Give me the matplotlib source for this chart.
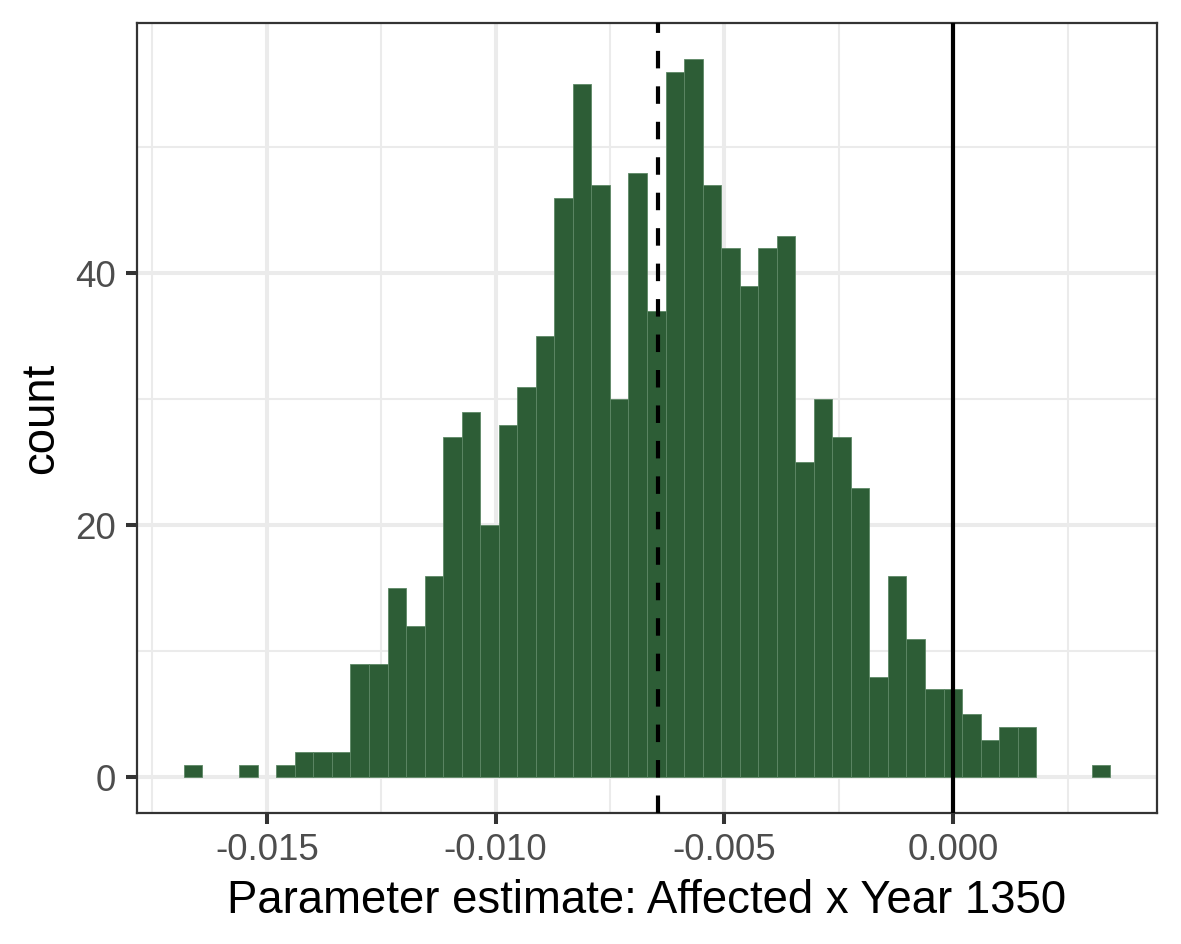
import numpy as np
import matplotlib
matplotlib.use("Agg")
import matplotlib.pyplot as plt
from matplotlib.ticker import FixedLocator

# ---- data ----
bin_start = -0.016817
bin_width = 0.000405
counts = [1, 0, 0, 1, 0, 1, 2, 2, 2, 9,
          9, 15, 12, 16, 27, 29, 20, 28, 31, 35,
          46, 55, 47, 30, 48, 37, 56, 57, 47, 42,
          39, 42, 43, 25, 30, 27, 23, 8, 16, 11,
          7, 7, 5, 3, 4, 4, 0, 0, 0, 1]
mean_estimate = -0.00646
reference_value = 0.0
x_ticks = [-0.015, -0.010, -0.005, 0.000]
x_tick_labels = ["-0.015", "-0.010", "-0.005", "0.000"]
x_minor_ticks = [-0.0175, -0.0125, -0.0075, -0.0025, 0.0025]
y_ticks = [0, 20, 40]
y_minor_ticks = [10, 30, 50]
x_label = "Parameter estimate: Affected x Year 1350"
y_label = "count"

plt.rcParams['font.family'] = ['Liberation Sans', 'DejaVu Sans']

W, H = 1181, 944
fig = plt.figure(figsize=(W / 100, H / 100), dpi=100)
left, right, top, bottom = 137.3, 1156.7, 23.3, 813.3
ax = fig.add_axes([left / W, 1 - bottom / H, (right - left) / W, (bottom - top) / H])

counts_arr = np.array(counts, dtype=float)
lefts = bin_start + bin_width * np.arange(len(counts_arr))
mask = counts_arr > 0
ax.bar(lefts[mask], counts_arr[mask], width=bin_width, align='edge',
       color='#2D5D36', edgecolor='#5E8866', linewidth=0.6, zorder=3)

ax.axvline(mean_estimate, color='black', lw=3.0, linestyle=(0, (4.2, 4.31)), zorder=4)
ax.axvline(reference_value, color='black', lw=3.0, zorder=4)

data_min = bin_start
data_max = bin_start + bin_width * len(counts_arr)
rng = data_max - data_min
ax.set_xlim(data_min - 0.05 * rng, data_max + 0.05 * rng)
ymax = max(counts)
ax.set_ylim(-0.05 * ymax, ymax * 1.05)

ax.xaxis.set_major_locator(FixedLocator(x_ticks))
ax.set_xticklabels(x_tick_labels)
ax.xaxis.set_minor_locator(FixedLocator(x_minor_ticks))
ax.yaxis.set_major_locator(FixedLocator(y_ticks))
ax.yaxis.set_minor_locator(FixedLocator(y_minor_ticks))

ax.grid(which='major', color='#EBEBEB', lw=2.9, zorder=0)
ax.grid(which='minor', color='#EBEBEB', lw=1.45, zorder=0)
ax.set_axisbelow(True)

for s in ax.spines.values():
    s.set_color('#333333')
    s.set_linewidth(1.6)

ax.tick_params(axis='both', which='major', length=7.7, width=2.9, color='#333333',
               labelcolor='#4D4D4D', labelsize=26.5)
ax.tick_params(axis='x', which='major', pad=6.5)
ax.tick_params(axis='y', which='major', pad=7.5)
ax.tick_params(which='minor', length=0)

ax.set_xlabel(x_label, fontsize=32.8, color='black', labelpad=8)
ax.set_ylabel(y_label, fontsize=32.8, color='black', labelpad=9)

fig.savefig("out.png", dpi=100, facecolor='white')
